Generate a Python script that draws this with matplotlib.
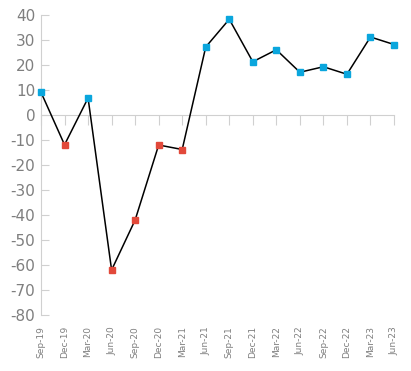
import numpy as np
import matplotlib.pyplot as plt

quarters = ["Sep-19", "Dec-19", "Mar-20", "Jun-20", "Sep-20", "Dec-20", "Mar-21", "Jun-21",
            "Sep-21", "Dec-21", "Mar-22", "Jun-22", "Sep-22", "Dec-22", "Mar-23", "Jun-23"]
values = [9.1, -11.9, 6.8, -62, -42, -12, -13.8, 27.2,
          38.3, 21.3, 26.1, 17.1, 19.3, 16.3, 31.2, 28.2]
y_ticks = list(range(-80, 41, 10))

blue = "#0aa6dd"
red = "#e2493a"
grey = "#d0d0d0"
text_grey = "#7f7f7f"

x = np.arange(len(quarters))
vals = np.array(values)

fig = plt.figure(figsize=(4.11, 3.71), dpi=100)
ax = fig.add_axes([41 / 411, 1 - 315 / 371, (394 - 41) / 411, 300 / 371])
ax.set_axisbelow(True)

ax.plot(x, vals, color="black", lw=1.1, zorder=3, clip_on=False)
pos = vals >= 0
ax.plot(x[pos], vals[pos], "s", color=blue, ms=5, zorder=4, clip_on=False)
ax.plot(x[~pos], vals[~pos], "s", color=red, ms=5, zorder=4, clip_on=False)

ax.set_xlim(x[0], x[-1])
ax.set_ylim(-80, 40)

for s in ["top", "right", "bottom"]:
    ax.spines[s].set_visible(False)
ax.spines["left"].set_color(grey)
ax.spines["left"].set_zorder(1)

ax.set_yticks(y_ticks)
ax.set_yticklabels([str(t) for t in y_ticks])
ax.tick_params(axis="y", colors=grey, length=6, direction="in",
               labelcolor=text_grey, labelsize=11, pad=4)

ax.set_xticks(x)
ax.set_xticklabels(quarters, rotation=90)
ax.tick_params(axis="x", length=0, labelcolor=text_grey, labelsize=6.5, pad=8)

# zero line with category ticks
zero = ax.secondary_xaxis(80 / 120)
zero.set_zorder(1)
zero.set_xticks(x)
zero.set_xticklabels([])
for s in zero.spines.values():
    s.set_color(grey)
zero.tick_params(axis="x", colors=grey, length=7, direction="in")

fig.savefig("out.png", dpi=100)
